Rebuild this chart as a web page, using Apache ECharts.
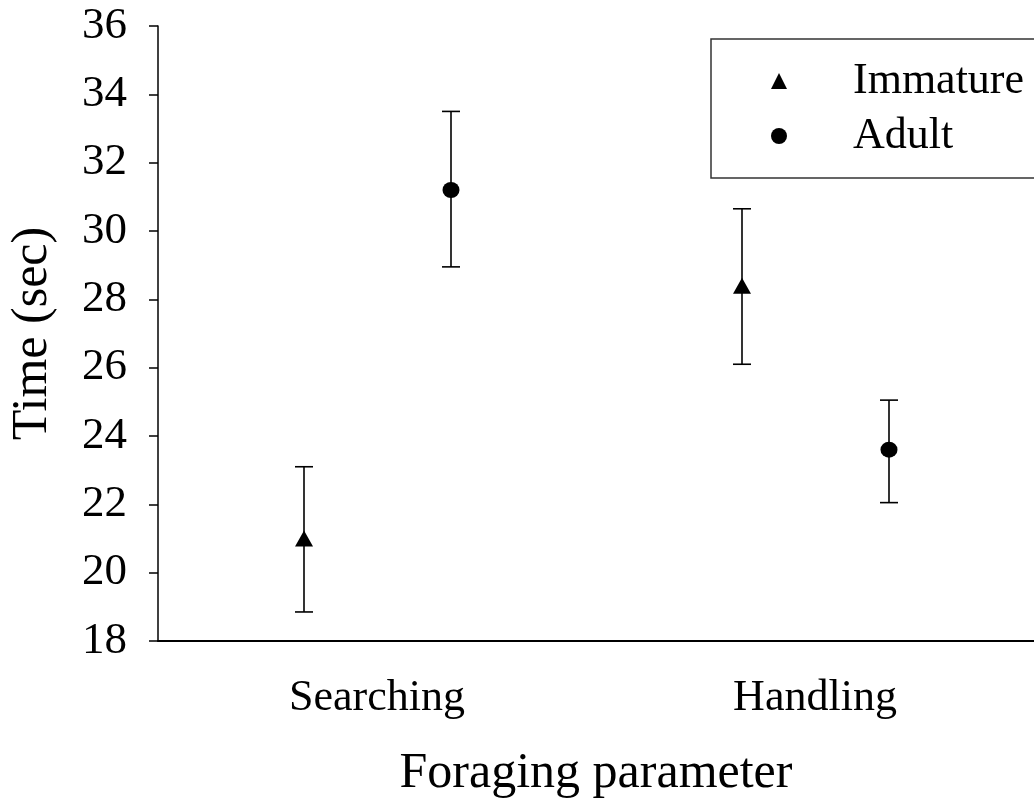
<!DOCTYPE html>
<html>
<head>
<meta charset="utf-8">
<script src="https://cdn.jsdelivr.net/npm/echarts@6/dist/echarts.min.js"></script>
<style>
html,body{margin:0;padding:0;background:#fff;}
#chart{width:1034px;height:804px;}
</style>
</head>
<body>
<div id="chart"></div>
<script>
var categories = ['Searching', 'Handling'];
var yTicks = [18, 20, 22, 24, 26, 28, 30, 32, 34, 36];
var immatureMean = [21.0, 28.4];
var immatureLow = [18.85, 26.1];
var immatureHigh = [23.1, 30.65];
var adultMean = [31.2, 23.6];
var adultLow = [28.95, 22.05];
var adultHigh = [33.5, 25.05];

var FONT = "'Liberation Serif', 'Times New Roman', serif";
var OFF_IMM = -73;
var OFF_AD = 74;

function errData(low, high) {
  return categories.map(function (c, i) { return [i, low[i], high[i]]; });
}
function makeErr(offset) {
  return function (params, api) {
    var i = api.value(0);
    var pHi = api.coord([i, api.value(2)]);
    var pLo = api.coord([i, api.value(1)]);
    var x = pHi[0] + offset;
    var cap = 9;
    var st = { stroke: '#000', lineWidth: 1.6 };
    return {
      type: 'group',
      children: [
        { type: 'line', shape: { x1: x, y1: pHi[1], x2: x, y2: pLo[1] }, style: st },
        { type: 'line', shape: { x1: x - cap, y1: pHi[1], x2: x + cap, y2: pHi[1] }, style: st },
        { type: 'line', shape: { x1: x - cap, y1: pLo[1], x2: x + cap, y2: pLo[1] }, style: st }
      ]
    };
  };
}

var chart = echarts.init(document.getElementById('chart'), null, { renderer: 'canvas' });
chart.setOption({
  animation: false,
  backgroundColor: '#fff',
  grid: { left: 153, right: 0, top: 26, bottom: 162, containLabel: false },
  legend: {
    left: 711, top: 39,
    orient: 'vertical',
    padding: [20, 300, 20, 60],
    itemWidth: 16, itemHeight: 16,
    itemGap: 11,
    borderColor: '#333', borderWidth: 1.5, borderRadius: 0,
    data: [
      { name: 'Immature', icon: 'triangle' },
      { name: 'Adult', icon: 'circle' }
    ],
    textStyle: { fontFamily: FONT, fontSize: 44, color: '#000', padding: [0, 0, 0, 61] }
  },
  xAxis: {
    type: 'category',
    data: categories,
    boundaryGap: true,
    name: 'Foraging parameter',
    nameLocation: 'middle',
    nameGap: 108,
    nameTextStyle: { fontFamily: FONT, fontSize: 50, color: '#000' },
    axisLine: { lineStyle: { color: '#000', width: 2 } },
    axisTick: { alignWithLabel: true, length: 9, lineStyle: { color: '#000', width: 1.5 } },
    axisLabel: { fontFamily: FONT, fontSize: 44, color: '#000', margin: 35 },
    splitLine: { show: false }
  },
  yAxis: {
    type: 'value',
    min: 18, max: 36, interval: 2,
    name: 'Time (sec)',
    nameLocation: 'middle',
    nameRotate: 90,
    nameGap: 100,
    nameTextStyle: { fontFamily: FONT, fontSize: 50, color: '#000' },
    axisLine: { show: true, lineStyle: { color: '#000', width: 1.5 } },
    axisTick: { show: true, length: 9, lineStyle: { color: '#000', width: 1.5 } },
    axisLabel: {
      fontFamily: FONT, fontSize: 45, color: '#000', margin: 31,
      formatter: function (v) { return yTicks.indexOf(v) >= 0 ? String(v) : ''; }
    },
    splitLine: { show: false }
  },
  series: [
    {
      type: 'custom', name: 'ImmErr', silent: true, z: 2,
      renderItem: makeErr(OFF_IMM), data: errData(immatureLow, immatureHigh),
      encode: { x: 0, y: [1, 2] }
    },
    {
      type: 'custom', name: 'AdErr', silent: true, z: 2,
      renderItem: makeErr(OFF_AD), data: errData(adultLow, adultHigh),
      encode: { x: 0, y: [1, 2] }
    },
    {
      type: 'scatter', name: 'Immature', z: 3,
      symbol: 'triangle', symbolSize: [18, 16], symbolOffset: [OFF_IMM, 0],
      itemStyle: { color: '#000', opacity: 1 },
      data: immatureMean
    },
    {
      type: 'scatter', name: 'Adult', z: 3,
      symbol: 'circle', symbolSize: [17, 16], symbolOffset: [OFF_AD, 0],
      itemStyle: { color: '#000', opacity: 1 },
      data: adultMean
    }
  ]
});
</script>
</body>
</html>
